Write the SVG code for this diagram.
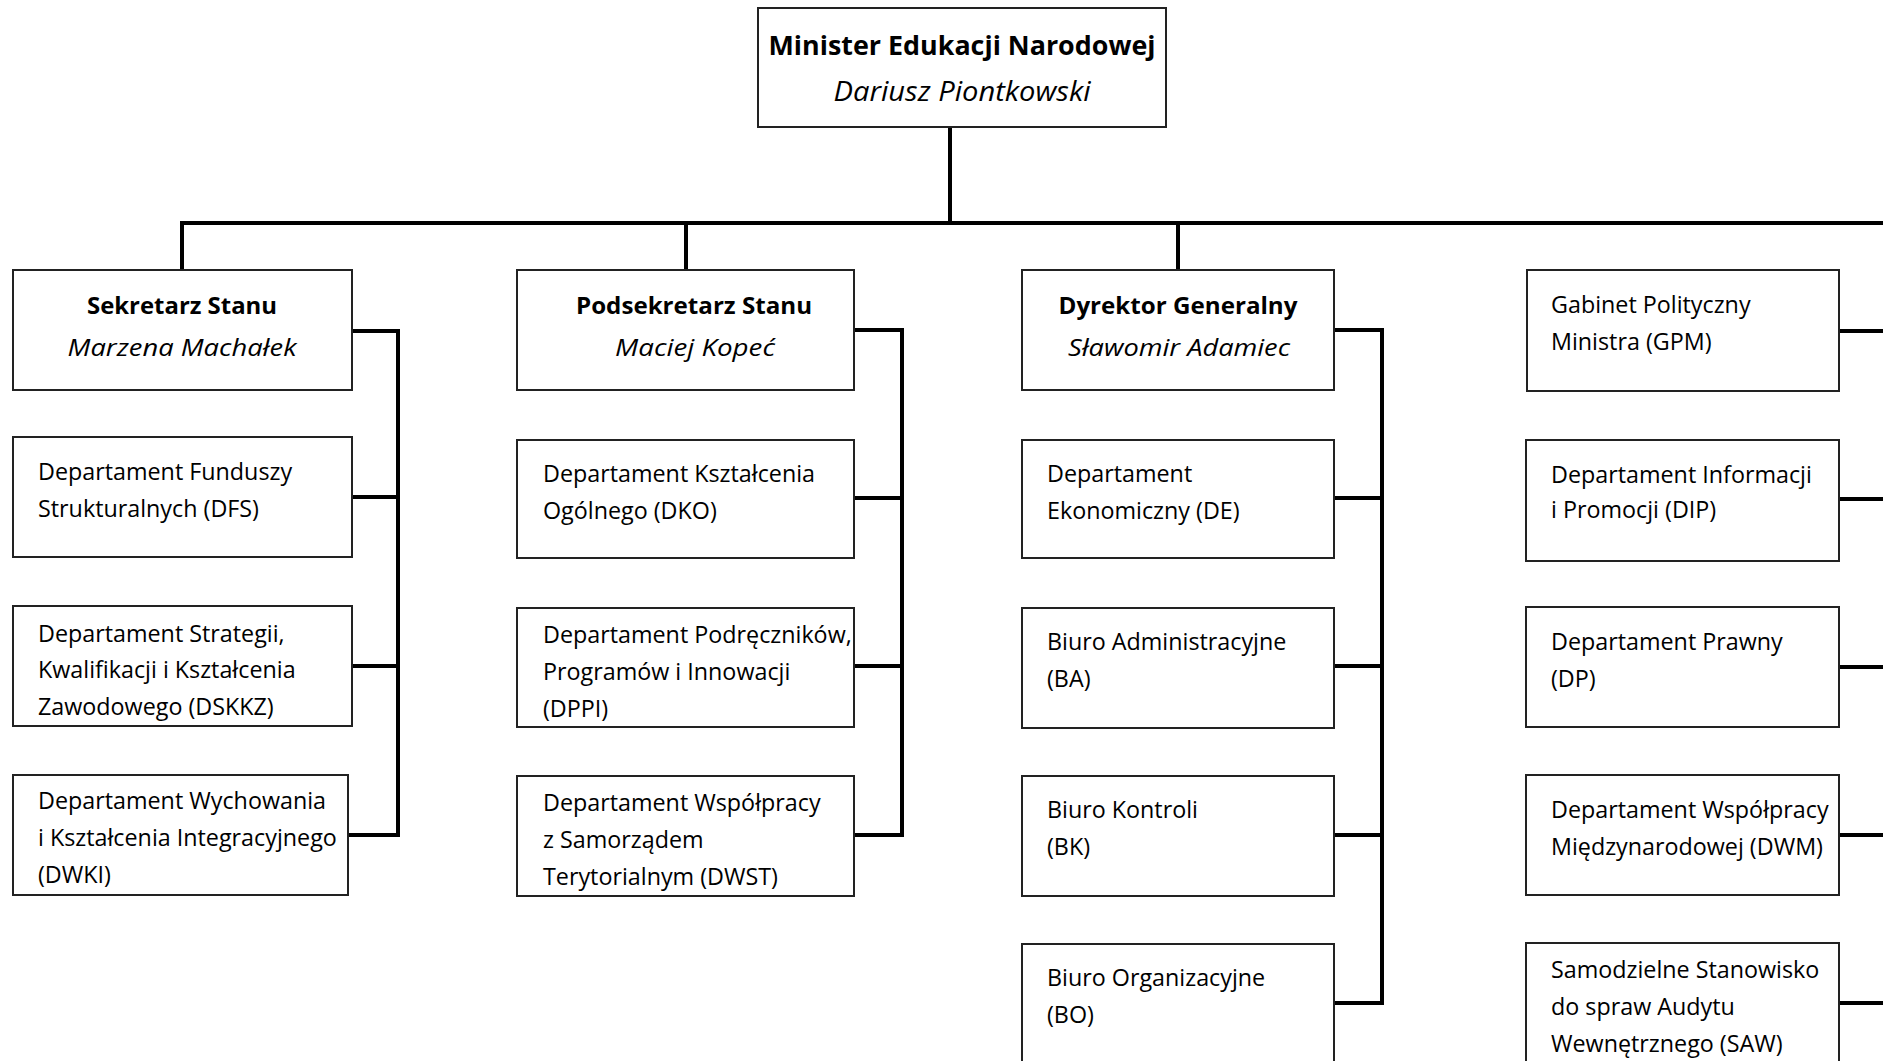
<svg xmlns="http://www.w3.org/2000/svg" width="1883" height="1061" viewBox="0 0 1883 1061">
<style>
.box{fill:#fff;stroke:#222;stroke-width:2}
.con{fill:none;stroke:#000;stroke-width:4;stroke-linecap:square}
text{font-family:"Open Sans","Noto Sans","DejaVu Sans",sans-serif;fill:#000}
.t{font-size:23.3px}
.hb{font-size:24px;font-weight:bold;text-anchor:middle}
.hi{font-size:24px;font-style:italic;text-anchor:middle}
.mb{font-size:27px;font-weight:bold;text-anchor:middle}
.mi{font-size:27px;font-style:italic;text-anchor:middle}
</style>
<rect width="1883" height="1061" fill="#fff"/>
<g id="connectors">
<path class="con" d="M950,127 V223 M182,223 H1885 M182,223 V270 M686,223 V270 M1178,223 V270"/>
<path class="con" d="M352,331 H398 V835 M352,497 H398 M352,666 H398 M348,835 H398"/>
<path class="con" d="M854,330 H902 V835 M854,498 H902 M854,666 H902 M854,835 H902"/>
<path class="con" d="M1334,330 H1382 V1003 M1334,498 H1382 M1334,666 H1382 M1334,835 H1382 M1334,1003 H1382"/>
<path class="con" d="M1839,331 H1885 M1839,499 H1885 M1839,667 H1885 M1839,835 H1885 M1839,1003 H1885"/>
</g>
<g id="minister"><rect class="box" x="758" y="8" width="408" height="119"/>
<text class="mb" x="962" y="55" textLength="387" lengthAdjust="spacingAndGlyphs">Minister Edukacji Narodowej</text>
<text class="mi" x="962" y="101" textLength="257" lengthAdjust="spacingAndGlyphs">Dariusz Piontkowski</text></g>

<g id="sekretarz"><rect class="box" x="13" y="270" width="339" height="120"/>
<text class="hb" x="182" y="314" textLength="190" lengthAdjust="spacingAndGlyphs">Sekretarz Stanu</text>
<text class="hi" x="182" y="356" textLength="229" lengthAdjust="spacingAndGlyphs">Marzena Machałek</text></g>
<g id="dfs"><rect class="box" x="13" y="437" width="339" height="120"/>
<text class="t" x="38" y="480">Departament Funduszy</text><text class="t" x="38" y="517">Strukturalnych (DFS)</text></g>
<g id="dskkz"><rect class="box" x="13" y="606" width="339" height="120"/>
<text class="t" x="38" y="642">Departament Strategii,</text><text class="t" x="38" y="678">Kwalifikacji i Kształcenia</text><text class="t" x="38" y="715">Zawodowego (DSKKZ)</text></g>
<g id="dwki"><rect class="box" x="13" y="775" width="335" height="120"/>
<text class="t" x="38" y="809">Departament Wychowania</text><text class="t" x="38" y="846">i Kształcenia Integracyjnego</text><text class="t" x="38" y="883">(DWKI)</text></g>

<g id="podsekretarz"><rect class="box" x="517" y="270" width="337" height="120"/>
<text class="hb" x="694" y="314" textLength="236" lengthAdjust="spacingAndGlyphs">Podsekretarz Stanu</text>
<text class="hi" x="695" y="356" textLength="160" lengthAdjust="spacingAndGlyphs">Maciej Kopeć</text></g>
<g id="dko"><rect class="box" x="517" y="440" width="337" height="118"/>
<text class="t" x="543" y="482">Departament Kształcenia</text><text class="t" x="543" y="519">Ogólnego (DKO)</text></g>
<g id="dppi"><rect class="box" x="517" y="608" width="337" height="119"/>
<text class="t" x="543" y="643">Departament Podręczników,</text><text class="t" x="543" y="680">Programów i Innowacji</text><text class="t" x="543" y="717">(DPPI)</text></g>
<g id="dwst"><rect class="box" x="517" y="776" width="337" height="120"/>
<text class="t" x="543" y="811">Departament Współpracy</text><text class="t" x="543" y="848">z Samorządem</text><text class="t" x="543" y="885">Terytorialnym (DWST)</text></g>

<g id="dyrektor"><rect class="box" x="1022" y="270" width="312" height="120"/>
<text class="hb" x="1178" y="314" textLength="239" lengthAdjust="spacingAndGlyphs">Dyrektor Generalny</text>
<text class="hi" x="1179" y="356" textLength="222" lengthAdjust="spacingAndGlyphs">Sławomir Adamiec</text></g>
<g id="de"><rect class="box" x="1022" y="440" width="312" height="118"/>
<text class="t" x="1047" y="482">Departament</text><text class="t" x="1047" y="519">Ekonomiczny (DE)</text></g>
<g id="ba"><rect class="box" x="1022" y="608" width="312" height="120"/>
<text class="t" x="1047" y="650">Biuro Administracyjne</text><text class="t" x="1047" y="687">(BA)</text></g>
<g id="bk"><rect class="box" x="1022" y="776" width="312" height="120"/>
<text class="t" x="1047" y="818">Biuro Kontroli</text><text class="t" x="1047" y="855">(BK)</text></g>
<g id="bo"><rect class="box" x="1022" y="944" width="312" height="130"/>
<text class="t" x="1047" y="986">Biuro Organizacyjne</text><text class="t" x="1047" y="1023">(BO)</text></g>

<g id="gpm"><rect class="box" x="1527" y="270" width="312" height="121"/>
<text class="t" x="1551" y="313">Gabinet Polityczny</text><text class="t" x="1551" y="350">Ministra (GPM)</text></g>
<g id="dip"><rect class="box" x="1526" y="440" width="313" height="121"/>
<text class="t" x="1551" y="483">Departament Informacji</text><text class="t" x="1551" y="518">i Promocji (DIP)</text></g>
<g id="dp"><rect class="box" x="1526" y="607" width="313" height="120"/>
<text class="t" x="1551" y="650">Departament Prawny</text><text class="t" x="1551" y="687">(DP)</text></g>
<g id="dwm"><rect class="box" x="1526" y="775" width="313" height="120"/>
<text class="t" x="1551" y="818">Departament Współpracy</text><text class="t" x="1551" y="855">Międzynarodowej (DWM)</text></g>
<g id="saw"><rect class="box" x="1526" y="943" width="313" height="130"/>
<text class="t" x="1551" y="978">Samodzielne Stanowisko</text><text class="t" x="1551" y="1015">do spraw Audytu</text><text class="t" x="1551" y="1052">Wewnętrznego (SAW)</text></g>
</svg>
